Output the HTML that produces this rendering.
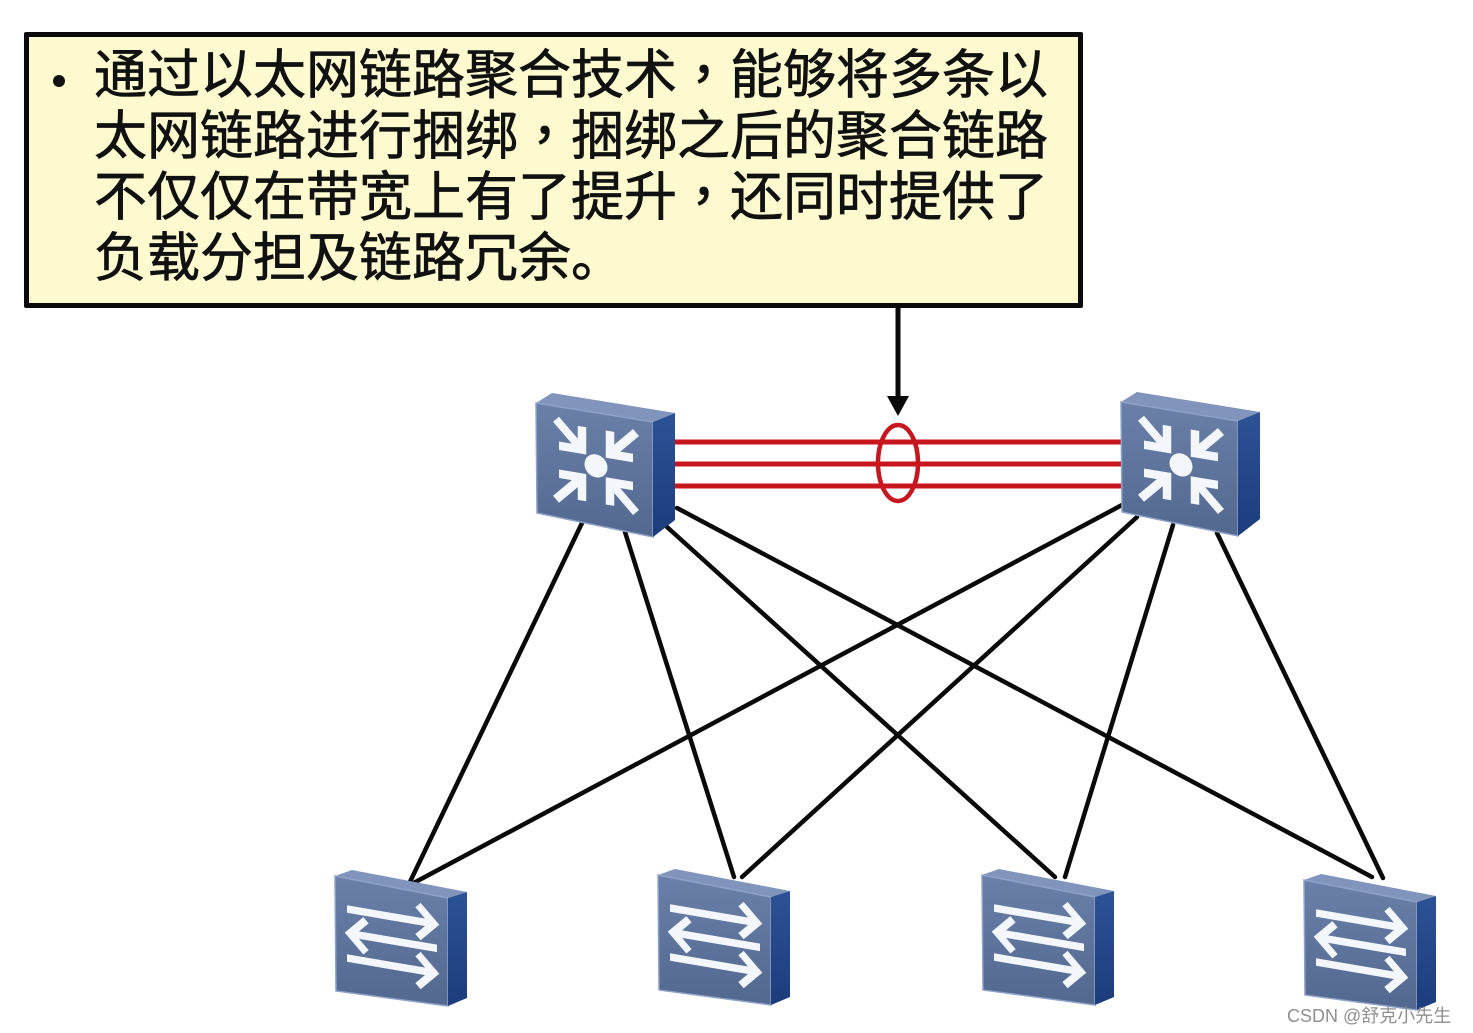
<!DOCTYPE html>
<html>
<head>
<meta charset="utf-8">
<style>
  html, body { margin:0; padding:0; background:#ffffff; }
  body { width:1473px; height:1033px; position:relative; overflow:hidden; }
  .box {
    position:absolute; left:24px; top:32px; width:1049px; height:266px;
    border:5px solid #0a0a0a; background:#fdfad0; border-radius:2px;
  }
  .txt {
    position:absolute; left:94px; top:45px; white-space:nowrap;
    font-family:"Liberation Sans","Noto Sans CJK SC",sans-serif;
    font-size:53px; line-height:61px; color:#111;
    -webkit-text-stroke:0.7px #111;
  }
  .cm { font-family:"Liberation Sans","Noto Sans CJK TC",sans-serif; }
  .bullet {
    position:absolute; left:53px; top:75px; width:12px; height:12px;
    border-radius:50%; background:#111;
  }
  .wm {
    position:absolute; left:1287px; top:1002px; white-space:nowrap;
    font-family:"Liberation Sans","Noto Sans CJK SC",sans-serif;
    font-size:18px; color:#8f8f8f;
  }
  svg { position:absolute; left:0; top:0; }
</style>
</head>
<body>
<svg width="1473" height="1033" viewBox="0 0 1473 1033">
  <defs>
    <linearGradient id="gf" x1="0" y1="0" x2="0" y2="1">
      <stop offset="0" stop-color="#6a80a9"/>
      <stop offset="1" stop-color="#52688f"/>
    </linearGradient>
    <linearGradient id="gs" x1="0" y1="0" x2="0" y2="1">
      <stop offset="0" stop-color="#2d5296"/>
      <stop offset="1" stop-color="#1c3c7c"/>
    </linearGradient>
    <g id="core">
      <polygon points="16,0 139,20 117,29 0,10" fill="#8194bb"/>
      <polygon points="0,10 117,29 117,144 1,120" fill="url(#gf)" stroke="#8ea2c8" stroke-width="1.5"/>
      <polygon points="117,29 139,20 139,127 117,144" fill="url(#gs)"/>
      <g transform="matrix(1,0.165,0,1,0,0)" fill="none" stroke="#f3f6fb" stroke-width="8.5" stroke-linecap="butt" stroke-linejoin="miter">
        <circle cx="60" cy="63" r="11.5" fill="#f3f6fb" stroke="none"/>
        <polyline points="46,26 46,49 23,49"/>
        <line x1="46" y1="49" x2="20" y2="23"/>
        <polyline points="74,26 74,49 97,49"/>
        <line x1="74" y1="49" x2="100" y2="23"/>
        <polyline points="46,100 46,77 23,77"/>
        <line x1="46" y1="77" x2="20" y2="103"/>
        <polyline points="74,100 74,77 97,77"/>
        <line x1="74" y1="77" x2="100" y2="103"/>
      </g>
    </g>
    <g id="acc">
      <polygon points="17,0 132,22 113,28 0,6" fill="#8194bb"/>
      <polygon points="0,6 113,28 113,136 1,121" fill="url(#gf)" stroke="#8ea2c8" stroke-width="1.5"/>
      <polygon points="113,28 132,22 132,128 113,136" fill="url(#gs)"/>
      <g transform="matrix(1,0.17,0,1,0,0)" fill="none" stroke="#f3f6fb" stroke-width="7.5" stroke-linecap="butt" stroke-linejoin="miter">
        <line x1="12" y1="37" x2="98" y2="37"/>
        <polyline points="83,21 99,37 83,53"/>
        <line x1="16" y1="61" x2="102" y2="61"/>
        <polyline points="31,45 15,61 31,77"/>
        <line x1="12" y1="86" x2="98" y2="86"/>
        <polyline points="83,70 99,86 83,102"/>
      </g>
    </g>
  </defs>

  <!-- black links -->
  <g stroke="#0a0a0a" stroke-width="4.5" stroke-linecap="round">
    <line x1="582" y1="523" x2="408" y2="886"/>
    <line x1="625" y1="532" x2="734" y2="877"/>
    <line x1="667" y1="527" x2="1055" y2="877"/>
    <line x1="677" y1="508" x2="1372" y2="877"/>
    <line x1="1122" y1="505" x2="408" y2="886"/>
    <line x1="1137" y1="517" x2="742" y2="877"/>
    <line x1="1173" y1="525" x2="1065" y2="877"/>
    <line x1="1217" y1="533" x2="1383" y2="878"/>
  </g>

  <!-- red aggregated links -->
  <g stroke="#c8161e" stroke-width="5">
    <line x1="672" y1="442" x2="1126" y2="442"/>
    <line x1="672" y1="464" x2="1126" y2="464"/>
    <line x1="672" y1="486" x2="1126" y2="486"/>
  </g>
  <ellipse cx="898" cy="463" rx="20" ry="38" fill="none" stroke="#c8161e" stroke-width="4.5"/>

  <!-- arrow from box -->
  <line x1="898" y1="306" x2="898" y2="400" stroke="#0a0a0a" stroke-width="5"/>
  <polygon points="887,396 909,396 898,416" fill="#0a0a0a"/>

  <!-- switches -->
  <use href="#core" x="536" y="393"/>
  <use href="#core" x="1121" y="392"/>
  <use href="#acc" x="335" y="870"/>
  <use href="#acc" x="658" y="869"/>
  <use href="#acc" x="982" y="869"/>
  <use href="#acc" x="1304" y="874"/>
</svg>

<div class="box"></div>
<div class="bullet"></div>
<div class="txt">通过以太网链路聚合技术<span class="cm">，</span>能够将多条以<br>太网链路进行捆绑<span class="cm">，</span>捆绑之后的聚合链路<br>不仅仅在带宽上有了提升<span class="cm">，</span>还同时提供了<br>负载分担及链路冗余。</div>
<div class="wm">CSDN @舒克小先生</div>
</body>
</html>
